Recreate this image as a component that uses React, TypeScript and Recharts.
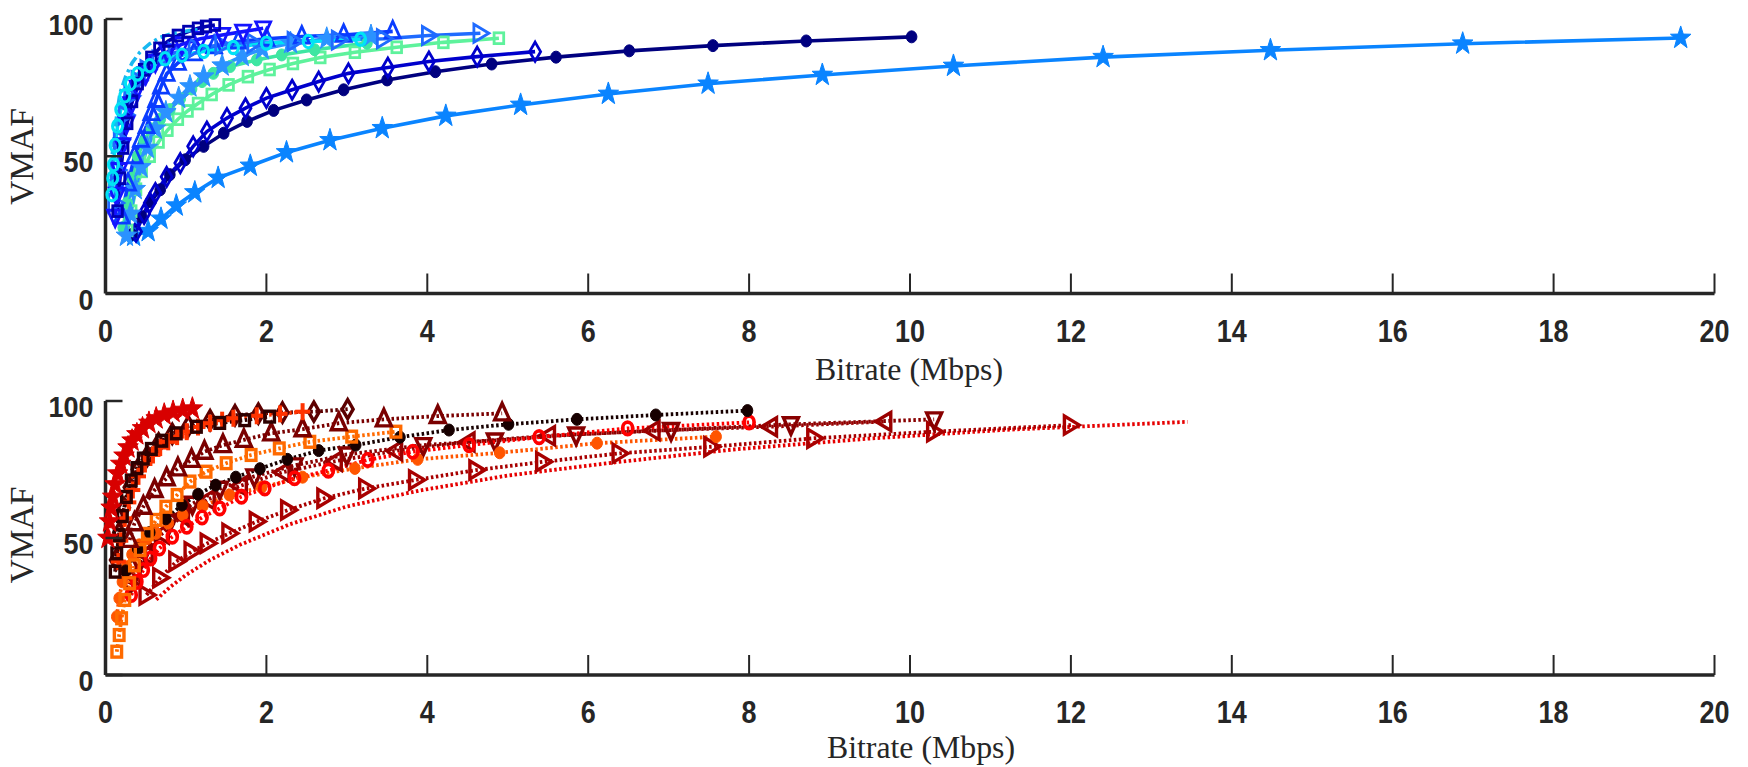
import React from 'react';
import { LineChart, Line, XAxis, YAxis } from 'recharts';

// ---- x ticks / y ticks ----
const bitrateTicks = [0, 2, 4, 6, 8, 10, 12, 14, 16, 18, 20];
const vmafTicks = [0, 50, 100];

// ---- top panel (solid, blue family) : [Mbps, VMAF] ----
const topStarsLong = [[0.35, 21.0], [0.53, 22.7], [0.69, 27.2], [0.88, 32.0], [1.11, 36.8], [1.40, 42.1], [1.80, 46.5], [2.25, 51.4], [2.79, 55.8], [3.44, 60.2], [4.23, 64.7], [5.16, 68.7], [6.25, 72.7], [7.49, 76.4], [8.91, 79.6], [10.54, 82.9], [12.40, 86.1], [14.48, 88.6], [16.87, 91.0], [19.58, 93.1]];
const topNavyDots = [[0.33, 21.5], [0.45, 28], [0.56, 33.5], [0.68, 37.8], [0.80, 43.3], [0.99, 48.7], [1.22, 53.6], [1.47, 58.4], [1.76, 62.7], [2.09, 66.7], [2.50, 70.5], [2.96, 74.2], [3.50, 77.8], [4.10, 80.8], [4.80, 83.6], [5.60, 86.1], [6.51, 88.4], [7.55, 90.3], [8.71, 92.0], [10.02, 93.5]];
const topDiamonds = [[0.38, 22.5], [0.48, 29], [0.55, 33], [0.62, 36.6], [0.76, 42.5], [0.93, 47.5], [1.09, 53.6], [1.26, 59.0], [1.51, 63.9], [1.74, 67.5], [2.00, 71.2], [2.32, 74.2], [2.65, 77.2], [3.02, 80.2], [3.51, 82.3], [4.02, 84.5], [4.62, 86.3], [5.34, 88.1]];
const topGreenSquares = [[0.27, 23], [0.32, 30], [0.38, 38], [0.45, 44.5], [0.55, 50], [0.66, 55.2], [0.77, 59.5], [0.90, 63.5], [1.02, 66.5], [1.15, 69.2], [1.32, 72.5], [1.53, 76], [1.77, 79], [2.04, 81.6], [2.33, 83.8], [2.67, 86], [3.10, 87.9], [3.62, 89.7], [4.20, 91.5], [4.89, 93.0]];
const topGreenDots = [[0.22, 24], [0.27, 33], [0.33, 42], [0.40, 50], [0.48, 55.5], [0.57, 60], [0.68, 63.5], [0.80, 67], [0.93, 71], [1.07, 74.5], [1.20, 77.2], [1.34, 80.2], [1.55, 82.7], [1.88, 85.1], [2.19, 86.9], [2.60, 88.8], [3.25, 91.2]];
const topLightStars = [[0.26, 21], [0.31, 29], [0.37, 38], [0.44, 46], [0.52, 53], [0.62, 60], [0.75, 66], [0.91, 71.2], [1.05, 75.4], [1.22, 79], [1.45, 83], [1.70, 86.5], [1.95, 89], [2.30, 91.2], [2.75, 92.8], [3.30, 93.8]];
const topUpTri = [[0.20, 28], [0.28, 40], [0.36, 50], [0.44, 56], [0.51, 61], [0.57, 65.7], [0.63, 70.5], [0.69, 75.4], [0.76, 80], [0.90, 84], [1.10, 87.5], [1.35, 90], [1.65, 91.8], [2.00, 92.8], [2.44, 93.6], [2.96, 94.2], [3.57, 95.5]];
const topRightTri = [[0.12, 33], [0.15, 45], [0.19, 56], [0.25, 65], [0.32, 72], [0.41, 77.5], [0.52, 81.5], [0.67, 85], [0.87, 87.8], [1.12, 89.5], [1.45, 90.5], [1.85, 91.2], [2.35, 91.8], [2.90, 92.3], [3.46, 92.8], [4.02, 94.0], [4.66, 94.8]];
const topDownTri = [[0.12, 28], [0.14, 36], [0.17, 45], [0.21, 54], [0.26, 62], [0.32, 69], [0.40, 75], [0.50, 80], [0.62, 84.5], [0.77, 88], [0.95, 90.8], [1.18, 92.8], [1.45, 94.2], [1.71, 95.4], [1.96, 96.6]];
const topDarkSquares = [[0.15, 30], [0.18, 42], [0.22, 53], [0.27, 62], [0.33, 70], [0.40, 76.5], [0.48, 81.5], [0.57, 86], [0.67, 89.3], [0.78, 92], [0.90, 94], [1.03, 95.4], [1.15, 96.6], [1.25, 97.3], [1.36, 97.8]];
const topCyanCircles = [[0.08, 36], [0.09, 42], [0.10, 47], [0.12, 54], [0.15, 61], [0.19, 67], [0.24, 72], [0.31, 76.5], [0.40, 80], [0.55, 83], [0.74, 85.5], [0.95, 86.8], [1.22, 88.2], [1.59, 89.6], [2.00, 91.2], [2.52, 91.8], [3.17, 92.6]];
const topDashed = [[0.05, 38], [0.07, 47], [0.10, 55], [0.14, 65], [0.18, 73], [0.25, 79], [0.33, 84], [0.43, 88], [0.55, 91], [0.68, 93.3], [0.84, 94.8], [1.05, 95.8], [1.22, 96.3]];

// ---- bottom panel (dotted, red family) ----
const botPlainRed = [[0.63, 27.5], [0.80, 32], [1.00, 36.5], [1.30, 42], [1.67, 47.5], [2.29, 55], [3.00, 61.5], [3.90, 67.3], [5.00, 72.8], [6.30, 77.5], [7.80, 82.3], [9.50, 86.3], [11.20, 89.5], [13.45, 92.4]];
const botRightTri = [[0.51, 29.2], [0.68, 35.5], [0.88, 41.4], [1.07, 45.0], [1.27, 48.1], [1.54, 51.7], [1.88, 56.0], [2.27, 60.2], [2.72, 64.5], [3.24, 68.1], [3.86, 71.2], [4.61, 74.8], [5.44, 77.8], [6.39, 80.9], [7.53, 83.3], [8.81, 86.4], [10.30, 88.8], [12.00, 91.2]];
const botLeftTri = [[0.35, 36], [0.50, 44], [0.70, 51.5], [0.95, 58], [1.27, 64], [1.67, 69], [2.20, 74], [2.85, 78], [3.60, 81.8], [4.50, 85], [5.50, 87.3], [6.80, 89.2], [8.26, 90.6], [9.68, 92.5]];
const botDownTri = [[0.30, 33], [0.42, 41], [0.58, 49], [0.80, 56], [1.08, 62.5], [1.42, 68], [1.85, 72.5], [2.35, 76.5], [3.00, 80.5], [3.95, 83.9], [4.84, 85.6], [5.85, 87.8], [7.03, 89.4], [8.52, 91.5], [10.30, 93.3]];
const botOrangeDots = [[0.14, 21.3], [0.17, 28], [0.21, 34], [0.26, 39.5], [0.33, 44], [0.42, 47.5], [0.52, 49.8], [0.63, 51.7], [0.78, 55.4], [0.96, 58.4], [1.21, 61.7], [1.54, 65.7], [1.94, 68.5], [2.45, 72.2], [3.10, 75.4], [3.88, 78.7], [4.90, 81.1], [6.11, 84.6], [7.59, 87.0]];
const botRedCircles = [[0.32, 29.2], [0.39, 34], [0.47, 38.3], [0.56, 42.5], [0.67, 46.2], [0.83, 50.5], [1.01, 54.1], [1.20, 57.5], [1.42, 60.8], [1.69, 65.1], [1.98, 68.1], [2.35, 71.8], [2.77, 74.6], [3.26, 78.5], [3.82, 81.5], [4.52, 83.9], [5.39, 86.8], [6.49, 90.0], [8.00, 92.2]];
const botBlackDots = [[0.25, 38], [0.40, 46], [0.55, 52], [0.75, 57], [0.95, 62], [1.15, 66], [1.37, 69.3], [1.62, 72.2], [1.92, 75.3], [2.26, 78.7], [2.65, 81.9], [3.11, 83.9], [3.66, 86.8], [4.27, 89.4], [5.01, 91.5], [5.86, 93.3], [6.84, 94.9], [7.98, 96.5]];
const botOrangeSquares = [[0.14, 8.5], [0.17, 14.6], [0.20, 20.7], [0.24, 27.4], [0.30, 33.5], [0.36, 40], [0.43, 45.6], [0.52, 51.5], [0.63, 56.6], [0.75, 61.4], [0.89, 65.7], [1.05, 70.6], [1.25, 74.2], [1.50, 77.3], [1.81, 80.3], [2.16, 82.7], [2.54, 85.1], [3.06, 87.0], [3.61, 88.8]];
const botUpperTri = [[0.30, 49.3], [0.36, 55.4], [0.47, 61.4], [0.61, 67.5], [0.76, 71.8], [0.90, 75.4], [1.07, 78.5], [1.23, 81.5], [1.46, 83.9], [1.72, 85.8], [2.06, 88.2], [2.45, 89.7], [2.90, 91.9], [3.46, 93.3], [4.13, 94.5], [4.93, 95.5]];
const botDiamonds = [[0.13, 42], [0.17, 52], [0.23, 61], [0.30, 68.5], [0.40, 75], [0.52, 80], [0.66, 84.5], [0.83, 88], [1.03, 90.8], [1.30, 93], [1.61, 94.8], [1.90, 95.4], [2.20, 95.8], [2.59, 96.1], [3.01, 97.0]];
const botOrangePlus = [[0.16, 41.4], [0.19, 49], [0.24, 57.2], [0.29, 63], [0.34, 67.5], [0.41, 72.5], [0.49, 77], [0.59, 80.3], [0.68, 83], [0.78, 85.1], [0.89, 87], [1.01, 88.8], [1.15, 90.5], [1.30, 91.9], [1.45, 93], [1.59, 93.7], [1.88, 94.6], [2.17, 95.3], [2.45, 96.1]];
const botDarkSquares = [[0.12, 37.7], [0.14, 44.4], [0.17, 51], [0.21, 58], [0.26, 65], [0.32, 71], [0.39, 75.5], [0.47, 79], [0.57, 82.5], [0.70, 85.5], [0.88, 88.2], [1.13, 90.6], [1.42, 92], [1.73, 93], [2.04, 94.3]];
const botRedStars = [[0.03, 50], [0.05, 56], [0.07, 61], [0.09, 65], [0.12, 69.5], [0.15, 73.5], [0.19, 77], [0.23, 80], [0.28, 83], [0.33, 85.5], [0.39, 87.8], [0.46, 90], [0.54, 92], [0.63, 93.6], [0.73, 95], [0.84, 96], [0.96, 96.7], [1.08, 97.2]];

type Shape = 'none' | 'star' | 'dot' | 'circle' | 'square' | 'diamond' | 'triUp' | 'triDown' | 'triLeft' | 'triRight' | 'plus';
type Series = { name: string; pts: number[][]; color: string; shape: Shape; dash?: string };

const topSeries: Series[] = [
  { name: 'starsLong', pts: topStarsLong, color: '#0a84ff', shape: 'star' },
  { name: 'navy', pts: topNavyDots, color: '#00007f', shape: 'dot' },
  { name: 'diam', pts: topDiamonds, color: '#0000cc', shape: 'diamond' },
  { name: 'gsq', pts: topGreenSquares, color: '#5ef29c', shape: 'square' },
  { name: 'gdot', pts: topGreenDots, color: '#3ee6a2', shape: 'dot' },
  { name: 'lstar', pts: topLightStars, color: '#2b92ff', shape: 'star' },
  { name: 'up', pts: topUpTri, color: '#0a3cff', shape: 'triUp' },
  { name: 'right', pts: topRightTri, color: '#1f6bff', shape: 'triRight' },
  { name: 'down', pts: topDownTri, color: '#1414ff', shape: 'triDown' },
  { name: 'dsq', pts: topDarkSquares, color: '#0000b0', shape: 'square' },
  { name: 'cyan', pts: topCyanCircles, color: '#00e3f5', shape: 'circle' },
  { name: 'dash', pts: topDashed, color: '#18b8f0', shape: 'none', dash: '10 4 3 4' },
];

const DOTTED = '2.5 2.5';
const botSeries: Series[] = [
  { name: 'plain', pts: botPlainRed, color: '#e60000', shape: 'none', dash: DOTTED },
  { name: 'rtri', pts: botRightTri, color: '#a80000', shape: 'triRight', dash: DOTTED },
  { name: 'ltri', pts: botLeftTri, color: '#9a0000', shape: 'triLeft', dash: DOTTED },
  { name: 'dtri', pts: botDownTri, color: '#880000', shape: 'triDown', dash: DOTTED },
  { name: 'odot', pts: botOrangeDots, color: '#ff5500', shape: 'dot', dash: DOTTED },
  { name: 'rcirc', pts: botRedCircles, color: '#ff0000', shape: 'circle', dash: DOTTED },
  { name: 'black', pts: botBlackDots, color: '#170000', shape: 'dot', dash: DOTTED },
  { name: 'osq', pts: botOrangeSquares, color: '#ff6a00', shape: 'square', dash: DOTTED },
  { name: 'utri', pts: botUpperTri, color: '#7a0000', shape: 'triUp', dash: DOTTED },
  { name: 'bdiam', pts: botDiamonds, color: '#5c0000', shape: 'diamond', dash: DOTTED },
  { name: 'plus', pts: botOrangePlus, color: '#ff3300', shape: 'plus', dash: DOTTED },
  { name: 'bdsq', pts: botDarkSquares, color: '#2d0000', shape: 'square', dash: DOTTED },
  { name: 'rstar', pts: botRedStars, color: '#d80000', shape: 'star', dash: DOTTED },
];

const AXIS = '#262626';
const TICK_FONT = "'Liberation Sans', Arial, sans-serif";
const LABEL_FONT = "'Liberation Serif', 'DejaVu Serif', serif";

function starPoints(cx: number, cy: number, R: number, r: number) {
  const p: string[] = [];
  for (let i = 0; i < 10; i++) {
    const a = -Math.PI / 2 + (i * Math.PI) / 5;
    const rad = i % 2 === 0 ? R : r;
    p.push(`${cx + rad * Math.cos(a) * 0.9},${cy + rad * Math.sin(a)}`);
  }
  return p.join(' ');
}

function renderMarker(props: any, s: Series, sw: number) {
  const { cx, cy, index } = props;
  const key = `${s.name}-${index}`;
  if (cx == null || cy == null) return <g key={key} />;
  const c = s.color;
  switch (s.shape) {
    case 'star':
      return <polygon key={key} points={starPoints(cx, cy, 12, 4.8)} fill={c} stroke={c} strokeWidth={1} />;
    case 'dot':
      return <ellipse key={key} cx={cx} cy={cy} rx={5.3} ry={6} fill={c} stroke={c} strokeWidth={1} />;
    case 'circle':
      return <ellipse key={key} cx={cx} cy={cy} rx={5} ry={6.2} fill="none" stroke={c} strokeWidth={sw + 0.3} />;
    case 'square':
      return <rect key={key} x={cx - 4.8} y={cy - 5.4} width={9.6} height={10.8} fill="none" stroke={c} strokeWidth={sw} />;
    case 'diamond':
      return <polygon key={key} points={`${cx},${cy - 9.5} ${cx + 5.5},${cy} ${cx},${cy + 9.5} ${cx - 5.5},${cy}`} fill="none" stroke={c} strokeWidth={sw} />;
    case 'triUp':
      return <polygon key={key} points={`${cx},${cy - 10} ${cx + 7.5},${cy + 6.5} ${cx - 7.5},${cy + 6.5}`} fill="none" stroke={c} strokeWidth={sw} />;
    case 'triDown':
      return <polygon key={key} points={`${cx},${cy + 10} ${cx + 7.5},${cy - 6.5} ${cx - 7.5},${cy - 6.5}`} fill="none" stroke={c} strokeWidth={sw} />;
    case 'triLeft':
      return <polygon key={key} points={`${cx - 8.5},${cy} ${cx + 6.5},${cy - 9} ${cx + 6.5},${cy + 9}`} fill="none" stroke={c} strokeWidth={sw} />;
    case 'triRight':
      return <polygon key={key} points={`${cx + 8.5},${cy} ${cx - 6.5},${cy - 9} ${cx - 6.5},${cy + 9}`} fill="none" stroke={c} strokeWidth={sw} />;
    case 'plus':
      return (
        <g key={key} stroke={c} strokeWidth={4}>
          <line x1={cx - 7.5} y1={cy} x2={cx + 7.5} y2={cy} />
          <line x1={cx} y1={cy - 8.5} x2={cx} y2={cy + 8.5} />
        </g>
      );
    default:
      return <g key={key} />;
  }
}

const XTick = (p: any) => {
  const { x, y, payload } = p;
  const label = String(payload.value);
  return (
    <g>
      {payload.value !== 0 && <line x1={x} y1={y} x2={x} y2={y - 20} stroke={AXIS} strokeWidth={2} />}
      <text x={x} y={y + 48} textAnchor="middle" fontFamily={TICK_FONT} fontWeight="bold" fontSize={31} fill={AXIS}
        textLength={15 * label.length} lengthAdjust="spacingAndGlyphs">{label}</text>
    </g>
  );
};

const YTick = (p: any) => {
  const { x, y, payload } = p;
  const label = String(payload.value);
  return (
    <g>
      <line x1={x} y1={y} x2={x + 17} y2={y} stroke={AXIS} strokeWidth={2.5} />
      <text x={x - 12} y={y + 16} textAnchor="end" fontFamily={TICK_FONT} fontWeight="bold" fontSize={30} fill={AXIS}
        textLength={15 * label.length} lengthAdjust="spacingAndGlyphs">{label}</text>
    </g>
  );
};

const Panel = ({ series, height, margin, sw, lw }: { series: Series[]; height: number; margin: any; sw: number; lw: number }) => (
  <LineChart width={1748} height={height} margin={margin}>
    <XAxis type="number" dataKey="x" domain={[0, 20]} ticks={bitrateTicks} interval={0} height={1}
      tickSize={0} tickMargin={0} tick={<XTick />} tickLine={false}
      axisLine={{ stroke: AXIS, strokeWidth: 3.5 }} allowDuplicatedCategory={false} />
    <YAxis type="number" dataKey="y" domain={[0, 100]} ticks={vmafTicks} interval={0} width={1}
      tickSize={0} tickMargin={0} tick={<YTick />} tickLine={false}
      axisLine={{ stroke: AXIS, strokeWidth: 3.5 }} />
    {series.map(s => (
      <Line key={s.name} data={s.pts.map(([x, y]) => ({ x, y }))} dataKey="y" type="linear"
        stroke={s.color} strokeWidth={lw} strokeDasharray={s.dash}
        dot={s.shape === 'none' ? false : (p: any) => renderMarker(p, s, sw)}
        activeDot={false} isAnimationActive={false} />
    ))}
  </LineChart>
);

export default function App() {
  return (
    <div style={{ position: 'absolute', left: 0, top: 0, width: 1748, height: 767, background: '#fff', overflow: 'hidden' }}>
      <div style={{ position: 'absolute', left: 0, top: 0 }}>
        <Panel series={topSeries} height={390} sw={2.8} lw={3.6}
          margin={{ top: 19, right: 33.5, left: 104.5, bottom: 95.5 }} />
      </div>
      <div style={{ position: 'absolute', left: 0, top: 390 }}>
        <Panel series={botSeries} height={377} sw={3.4} lw={3.8}
          margin={{ top: 11, right: 33.5, left: 104.5, bottom: 91 }} />
      </div>
      <svg width={1748} height={767} style={{ position: 'absolute', left: 0, top: 0, pointerEvents: 'none' }}>
        <text x={909} y={380} textAnchor="middle" fontFamily={LABEL_FONT} fontSize={31} fill={AXIS}
          textLength={188} lengthAdjust="spacingAndGlyphs">Bitrate (Mbps)</text>
        <text x={921} y={758} textAnchor="middle" fontFamily={LABEL_FONT} fontSize={31} fill={AXIS}
          textLength={188} lengthAdjust="spacingAndGlyphs">Bitrate (Mbps)</text>
        <text x={0} y={0} transform="translate(33,156.5) rotate(-90)" textAnchor="middle" fontFamily={LABEL_FONT}
          fontSize={33} fill={AXIS} textLength={97} lengthAdjust="spacingAndGlyphs">VMAF</text>
        <text x={0} y={0} transform="translate(33,535) rotate(-90)" textAnchor="middle" fontFamily={LABEL_FONT}
          fontSize={33} fill={AXIS} textLength={97} lengthAdjust="spacingAndGlyphs">VMAF</text>
      </svg>
    </div>
  );
}
